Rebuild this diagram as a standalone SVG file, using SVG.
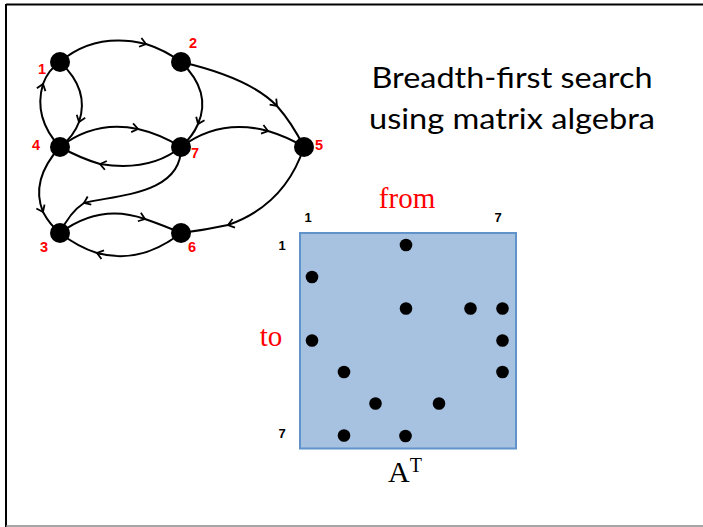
<svg xmlns="http://www.w3.org/2000/svg" width="703" height="527" viewBox="0 0 703 527">
<style>
.edge{fill:none;stroke:#000;stroke-width:2;marker-mid:url(#chev)}
.node{fill:#000}
.nl{font-family:"Liberation Sans",Arial,sans-serif;font-weight:bold;font-size:14.5px;fill:#ff0000}
.ml{font-family:"Liberation Sans",Arial,sans-serif;font-weight:bold;font-size:13px;fill:#000}
.serif{font-family:"Liberation Serif","Times New Roman",serif}
.title{font-family:Lato,"Open Sans",sans-serif;font-size:29px;fill:#000}
.dot{fill:#000}
</style>
<defs>
<marker id="chev" markerUnits="userSpaceOnUse" markerWidth="14" markerHeight="14" viewBox="-8 -7 14 14" refX="0" refY="0" orient="auto">
<path d="M-6,-4.5 L0,0 L-6,4.5" fill="none" stroke="#000" stroke-width="1.8"/>
</marker>
</defs>
<rect width="703" height="527" fill="#fff"/>
<g id="frame">
<line x1="6" y1="4.5" x2="703" y2="4.5" stroke="#000" stroke-width="2"/>
<line x1="6" y1="4" x2="6" y2="527" stroke="#000" stroke-width="2"/>
<line x1="6" y1="526" x2="703" y2="526" stroke="#888" stroke-width="1.5"/>
</g>
<g id="connectors">
<path class="edge" d="M60,62 Q95,32 146,44 Q165,50 181,62"/>
<path class="edge" d="M60,62 Q90,90 79,122 Q74,136 60,147"/>
<path class="edge" d="M60,147 Q33,118 43,84 Q48,70 60,62"/>
<path class="edge" d="M60,147 Q95,120 138,129 Q160,134 181,147"/>
<path class="edge" d="M181,147 Q150,172 100,164 Q80,158 60,147"/>
<path class="edge" d="M181,62 Q212,92 198,124 Q193,136 181,147"/>
<path class="edge" d="M181,62 Q250,78 277,106 Q292,123 304,147"/>
<path class="edge" d="M181,147 Q220,118 268,131 Q288,137 304,147"/>
<path class="edge" d="M304,147 Q285,205 228,225 Q205,230 181,233"/>
<path class="edge" d="M60,147 Q30,180 43,212 Q50,225 60,233"/>
<path class="edge" d="M181,147 C182,195 115,195 84,203 Q70,212 60,233"/>
<path class="edge" d="M60,233 Q100,203 145,219 Q165,226 181,233"/>
<path class="edge" d="M181,233 Q140,265 97,253 Q78,247 60,233"/>
</g>
<g id="n1"><circle class="node" cx="60" cy="62" r="10"/><text class="nl" x="42" y="74" text-anchor="middle">1</text></g>
<g id="n2"><circle class="node" cx="181" cy="62" r="10"/><text class="nl" x="193" y="48" text-anchor="middle">2</text></g>
<g id="n4"><circle class="node" cx="60" cy="147" r="10"/><text class="nl" x="36" y="150" text-anchor="middle">4</text></g>
<g id="n7"><circle class="node" cx="181" cy="147" r="10"/><text class="nl" x="195" y="158" text-anchor="middle">7</text></g>
<g id="n5"><circle class="node" cx="304" cy="147" r="10"/><text class="nl" x="319" y="150" text-anchor="middle">5</text></g>
<g id="n3"><circle class="node" cx="60" cy="233" r="10"/><text class="nl" x="44" y="252" text-anchor="middle">3</text></g>
<g id="n6"><circle class="node" cx="181" cy="233" r="10"/><text class="nl" x="192" y="252" text-anchor="middle">6</text></g>
<g id="title">
<text class="title" x="512" y="88" text-anchor="middle" textLength="281" lengthAdjust="spacingAndGlyphs">Breadth-first search</text>
<text class="title" x="512" y="129" text-anchor="middle" textLength="286" lengthAdjust="spacingAndGlyphs">using matrix algebra</text>
</g>
<g id="matrix">
<rect x="300" y="233" width="216" height="215.5" fill="#a7c1e0" stroke="#5f93c9" stroke-width="2"/>
<circle class="dot" cx="406" cy="245" r="6.3"/>
<circle class="dot" cx="312" cy="277" r="6.3"/>
<circle class="dot" cx="406" cy="308.5" r="6.3"/>
<circle class="dot" cx="470.5" cy="308.5" r="6.3"/>
<circle class="dot" cx="502.5" cy="308.5" r="6.3"/>
<circle class="dot" cx="312" cy="340.5" r="6.3"/>
<circle class="dot" cx="502.5" cy="340.5" r="6.3"/>
<circle class="dot" cx="344" cy="372" r="6.3"/>
<circle class="dot" cx="502.5" cy="372" r="6.3"/>
<circle class="dot" cx="375.5" cy="403.5" r="6.3"/>
<circle class="dot" cx="439" cy="403.5" r="6.3"/>
<circle class="dot" cx="344" cy="435.5" r="6.3"/>
<circle class="dot" cx="405.5" cy="436" r="6.3"/>
<text class="ml" x="308" y="222" text-anchor="middle">1</text>
<text class="ml" x="498" y="222" text-anchor="middle">7</text>
<text class="ml" x="282" y="250" text-anchor="middle">1</text>
<text class="ml" x="282" y="438" text-anchor="middle">7</text>
<text class="serif" x="407" y="208" text-anchor="middle" font-size="29" fill="#ff0000">from</text>
<text class="serif" x="271" y="346" text-anchor="middle" font-size="29" fill="#ff0000">to</text>
<text class="serif" x="388" y="482" font-size="30" fill="#000">A<tspan font-size="20" dy="-10">T</tspan></text>
</g>
</svg>
